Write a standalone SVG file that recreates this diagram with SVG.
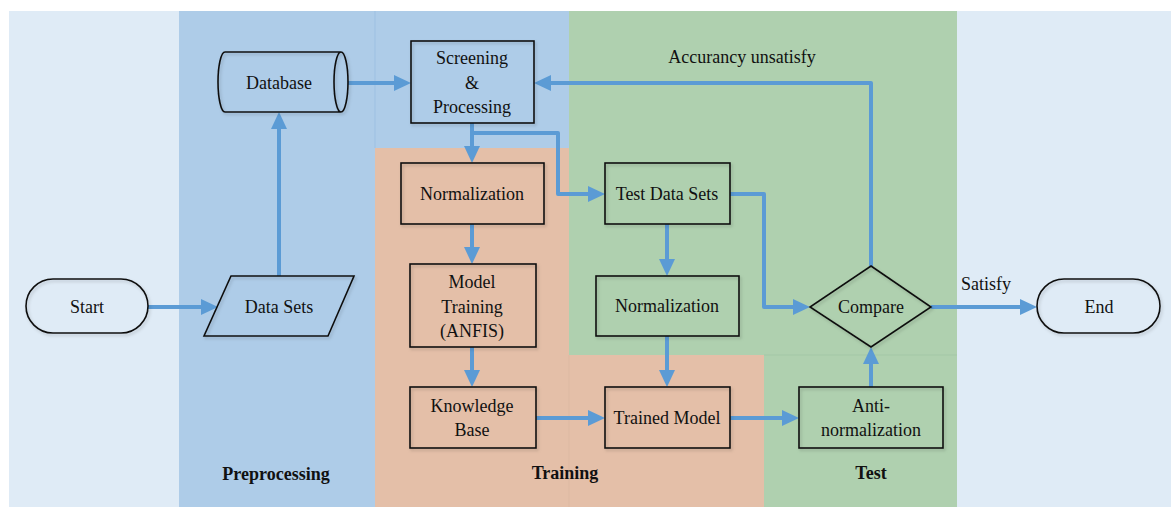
<svg xmlns="http://www.w3.org/2000/svg" width="1171" height="507" viewBox="0 0 1171 507">
<style>
.n{fill:none;stroke:#111;stroke-width:1.6;filter:url(#sh)}
.t{font-family:"Liberation Serif","Times New Roman",serif;font-size:18px;fill:#111;text-anchor:middle}
.b{font-weight:bold}
.c{fill:none;stroke:#5B9BD5;stroke-width:4;stroke-linejoin:round;marker-end:url(#a)}
</style>
<defs>
<marker id="a" markerUnits="userSpaceOnUse" markerWidth="17" markerHeight="16" refX="8" refY="8" orient="auto">
<path d="M0,0 L17,8 L0,16 Z" fill="#5B9BD5"/>
</marker>
<filter id="sh" x="-10%" y="-10%" width="120%" height="130%">
<feDropShadow dx="1.5" dy="2" stdDeviation="1.5" flood-color="#000" flood-opacity="0.18"/>
</filter>
</defs>
<rect width="1171" height="507" fill="#fff"/>
<g id="bands">
<rect x="9" y="11" width="1162" height="496" fill="#DFEBF6"/>
<rect x="179" y="11" width="390" height="137" fill="#AECCE8"/>
<rect x="179" y="148" width="196" height="359" fill="#AECCE8"/>
<rect x="375" y="148" width="194" height="359" fill="#E4BFA8"/>
<rect x="569" y="355" width="195" height="152" fill="#E4BFA8"/>
<rect x="569" y="11" width="388" height="344" fill="#AFD0AF"/>
<rect x="764" y="355" width="193" height="152" fill="#AFD0AF"/>
<line x1="375" y1="11" x2="375" y2="148" stroke="#9DC0E2" stroke-width="1"/>
<line x1="764" y1="355" x2="957" y2="355" stroke="#A3C7A6" stroke-width="1"/>
<line x1="569" y1="355" x2="569" y2="507" stroke="#DDB9A2" stroke-width="1"/>
</g>
<g id="connectors">
<path class="c" d="M148,307 H209"/>
<path class="c" d="M279,276 V121"/>
<path class="c" d="M348,83 H402"/>
<path class="c" d="M871,266 V83 H543"/>
<path class="c" d="M472,123 V154"/>
<path class="c" d="M472,133 H558 V194 H596"/>
<path class="c" d="M472,224 V255"/>
<path class="c" d="M472,347 V378"/>
<path class="c" d="M536,418 H596"/>
<path class="c" d="M667,224 V267"/>
<path class="c" d="M667,336 V378"/>
<path class="c" d="M730,194 H764 V307 H801"/>
<path class="c" d="M730,418 H790"/>
<path class="c" d="M871,387 V356"/>
<path class="c" d="M931,307 H1028"/>
</g>
<g id="start"><rect class="n" x="26" y="279" width="122" height="54" rx="27"/><text class="t" x="87" y="313">Start</text></g>
<g id="datasets"><polygon class="n" points="231,276 354,276 328,336 204,336"/><text class="t" x="279" y="313">Data Sets</text></g>
<g id="database"><path class="n" d="M225,52 H341 A7,30 0 0 1 341,112 H225 A7,30 0 0 1 225,52 Z M341,52 A7,30 0 0 0 341,112"/><text class="t" x="279" y="89">Database</text></g>
<g id="screening"><rect class="n" x="411" y="41" width="123" height="82"/><text class="t" x="472" y="64">Screening</text><text class="t" x="472" y="89">&amp;</text><text class="t" x="472" y="113">Processing</text></g>
<g id="norm1"><rect class="n" x="401" y="163" width="143" height="61"/><text class="t" x="472" y="200">Normalization</text></g>
<g id="testdata"><rect class="n" x="605" y="163" width="125" height="61"/><text class="t" x="667" y="200">Test Data Sets</text></g>
<g id="modeltraining"><rect class="n" x="410" y="264" width="126" height="83"/><text class="t" x="472" y="288">Model</text><text class="t" x="472" y="313">Training</text><text class="t" x="472" y="337">(ANFIS)</text></g>
<g id="norm2"><rect class="n" x="596" y="276" width="143" height="60"/><text class="t" x="667" y="312">Normalization</text></g>
<g id="knowledge"><rect class="n" x="410" y="387" width="126" height="61"/><text class="t" x="472" y="412">Knowledge</text><text class="t" x="472" y="436">Base</text></g>
<g id="trained"><rect class="n" x="605" y="387" width="125" height="61"/><text class="t" x="667" y="424">Trained Model</text></g>
<g id="anti"><rect class="n" x="799" y="387" width="144" height="61"/><text class="t" x="871" y="412">Anti-</text><text class="t" x="871" y="436">normalization</text></g>
<g id="compare"><polygon class="n" points="871,266 931,307 871,347 810,307"/><text class="t" x="871" y="313">Compare</text></g>
<g id="end"><rect class="n" x="1037" y="279" width="123" height="54" rx="27"/><text class="t" x="1099" y="313">End</text></g>
<g id="labels">
<text class="t" x="742" y="63">Accurancy unsatisfy</text>
<text class="t" x="986" y="290">Satisfy</text>
<text class="t b" x="276" y="480">Preprocessing</text>
<text class="t b" x="565" y="479">Training</text>
<text class="t b" x="871" y="479">Test</text>
</g>
</svg>
